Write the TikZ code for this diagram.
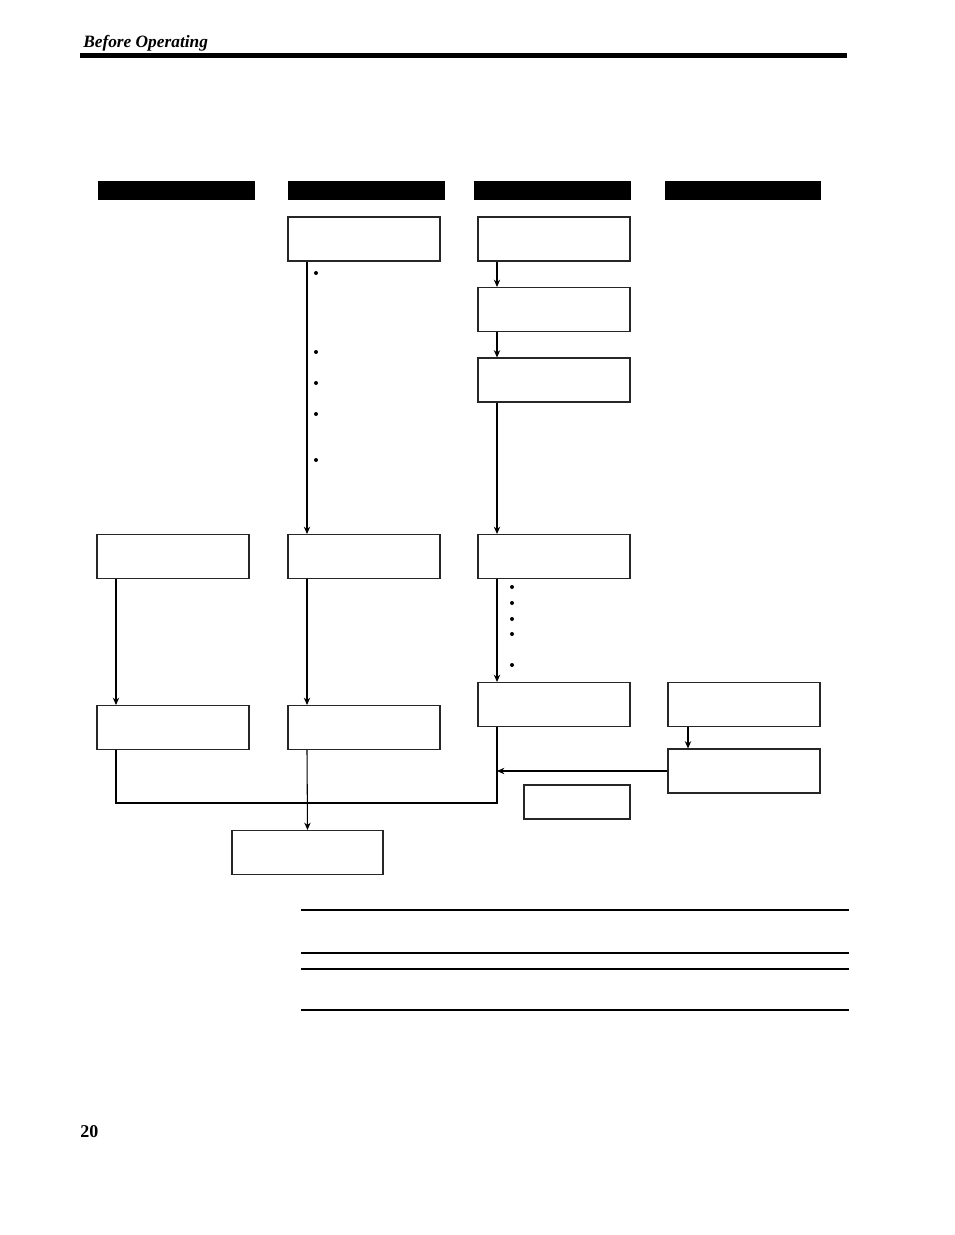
\documentclass[tikz,border=0pt]{standalone}
\usepackage{fontspec}
\setmainfont{Liberation Serif}
\usepackage{tikz}
\usetikzlibrary{arrows.meta,calc}
\tikzset{
  stepbox/.style={draw=black!85, line width=0.8pt, minimum width=114pt, minimum height=33pt, inner sep=0pt},
  headbar/.style={fill=black, minimum width=117.75pt, minimum height=14.25pt, inner sep=0pt},
  flow/.style={line width=0.8pt, -{Stealth[length=5.5pt,width=4.8pt]}},
  joinline/.style={line width=0.8pt}
}

\begin{document}
\begin{tikzpicture}[x=0.75pt, y=-0.75pt]
\useasboundingbox (0,0) rectangle (954,1235);
% page head
\node[anchor=base west, font=\fontsize{13}{15}\selectfont\bfseries\itshape, inner sep=0pt] (title) at (83,47) {Before Operating};
\draw[line width=3.75pt] (80,55.5) -- (847,55.5);
% column headers
\node[headbar] (hd1) at (176.5,190.5) {};
\node[headbar] (hd2) at (366.5,190.5) {};
\node[headbar] (hd3) at (552.5,190.5) {};
\node[headbar, minimum width=117pt] (hd4) at (743,190.5) {};
% column lines
\coordinate (c1) at (116,0);
\coordinate (c2) at (307,0);
\coordinate (c3) at (497,0);
\coordinate (c4) at (688,0);
% boxes
\node[stepbox] (setA) at (364,239) {};
\node[stepbox] (setB) at (554,239) {};
\node[stepbox] (setC) at (554,309.5) {};
\node[stepbox] (setD) at (554,380) {};
\node[stepbox] (setE) at (173,556.5) {};
\node[stepbox] (setF) at (364,556.5) {};
\node[stepbox] (setG) at (554,556.5) {};
\node[stepbox] (setH) at (173,727.5) {};
\node[stepbox] (setI) at (364,727.5) {};
\node[stepbox] (setJ) at (554,704.5) {};
\node[stepbox] (setK) at (744,704.5) {};
\node[stepbox] (setL) at (744,771) {};
\node[stepbox, minimum width=79.5pt, minimum height=25.5pt] (note) at (577,802) {};
\node[stepbox, minimum width=113.25pt] (final) at (307.5,852.5) {};
% bullets
\foreach \y in {273,352,383,414,460}
  \fill (316,\y) circle[radius=1.5pt];
\foreach \y in {587,603,619,634,665}
  \fill (512,\y) circle[radius=1.5pt];
% connectors
\draw[flow] (c2 |- setA.south) -- (c2 |- setF.north);
\draw[flow] (c3 |- setB.south) -- (c3 |- setC.north);
\draw[flow] (c3 |- setC.south) -- (c3 |- setD.north);
\draw[flow] (c3 |- setD.south) -- (c3 |- setG.north);
\draw[flow] (c3 |- setG.south) -- (c3 |- setJ.north);
\draw[flow] (c1 |- setE.south) -- (c1 |- setH.north);
\draw[flow] (c2 |- setF.south) -- (c2 |- setI.north);
\draw[flow] (c4 |- setK.south) -- (c4 |- setL.north);
\draw[flow] (setL.west) -- (c3 |- setL.west);
\coordinate (join) at (497,803);
\draw[joinline] (c3 |- setJ.south) -- (join) -| (c1 |- setH.south);
\draw[flow] (c2 |- setI.south) -- (final.north);
% table rules
\draw[line width=1.5pt] (301,910) -- (849,910);
\draw[line width=1.5pt] (301,953) -- (849,953);
\draw[line width=0.8pt] (301,969) -- (849,969);
\draw[line width=0.8pt] (301,1010) -- (849,1010);
% page number
\node[anchor=base west, font=\fontsize{13.5}{15}\selectfont\bfseries, inner sep=0pt] (pageno) at (80,1137) {20};
\end{tikzpicture}
\end{document}
